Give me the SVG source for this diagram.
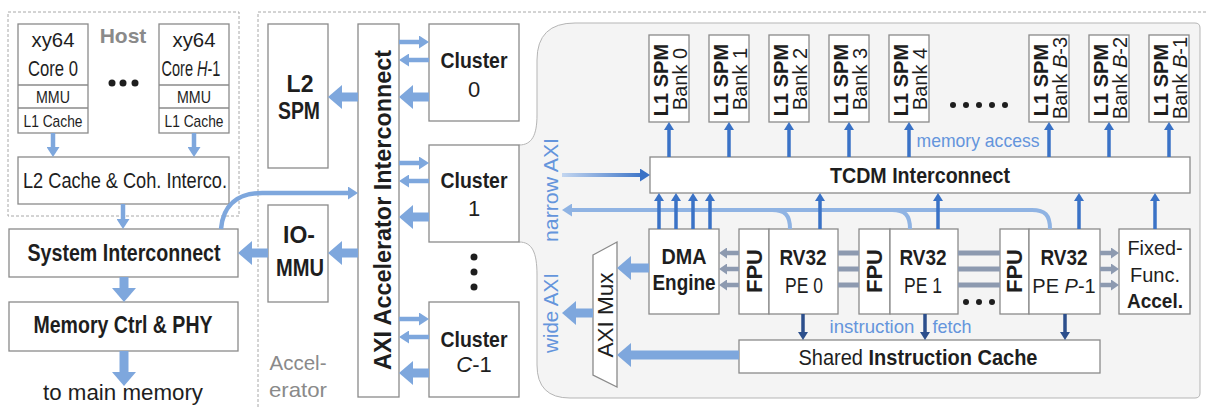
<svg xmlns="http://www.w3.org/2000/svg" width="1208" height="408" viewBox="0 0 1208 408">
<style>
.box{fill:#fff;stroke:#8a8a8a;stroke-width:1.3}
.frame{fill:none;stroke:#a8a8a8;stroke-width:1;stroke-dasharray:3 2}
.t{font-family:"Liberation Sans",Arial,sans-serif;fill:#1e1e1e;text-anchor:middle}
.b{font-weight:bold}
.gray{fill:#8a8a8a}
.blue{fill:#6495dc}
.s22{font-size:22px}
.s20{font-size:20px}
.thick{stroke:#7ea7dd;stroke-width:9;fill:none;marker-end:url(#mThick)}
.thin{stroke:#7ea7dd;stroke-width:4.5;fill:none;marker-end:url(#mThin)}
.dark{stroke:#3a72c6;stroke-width:3.5;fill:none;marker-end:url(#mDark)}
.fetch{stroke:#2c4f8c;stroke-width:3.5;fill:none;marker-end:url(#mFetch)}
.garr{stroke:#8d9ab0;stroke-width:4.5;fill:none;marker-end:url(#mGray)}
.gbar{stroke:#8d9ab0;stroke-width:5;fill:none}
.ret{stroke:#8fb3e3;stroke-width:4;fill:none}
</style>
<defs>
<marker id="mThick" markerUnits="userSpaceOnUse" markerWidth="14" markerHeight="24" refX="1" refY="12" orient="auto"><path d="M0,0 L14,12 L0,24 z" fill="#7ea7dd"/></marker>
<marker id="mThin" markerUnits="userSpaceOnUse" markerWidth="10" markerHeight="13" refX="1" refY="6.5" orient="auto"><path d="M0,0 L10,6.5 L0,13 z" fill="#7ea7dd"/></marker>
<marker id="mRet" markerUnits="userSpaceOnUse" markerWidth="10" markerHeight="13" refX="1" refY="6.5" orient="auto"><path d="M0,0 L10,6.5 L0,13 z" fill="#8fb3e3"/></marker>
<marker id="mNar" markerUnits="userSpaceOnUse" markerWidth="10" markerHeight="13" refX="1" refY="6.5" orient="auto"><path d="M0,0 L10,6.5 L0,13 z" fill="#3a72c6"/></marker>
<marker id="mDark" markerUnits="userSpaceOnUse" markerWidth="8" markerHeight="10" refX="1" refY="5" orient="auto"><path d="M0,0 L8,5 L0,10 z" fill="#3a72c6"/></marker>
<marker id="mFetch" markerUnits="userSpaceOnUse" markerWidth="8" markerHeight="10" refX="1" refY="5" orient="auto"><path d="M0,0 L8,5 L0,10 z" fill="#2c4f8c"/></marker>
<marker id="mGray" markerUnits="userSpaceOnUse" markerWidth="8" markerHeight="11" refX="1" refY="5.5" orient="auto"><path d="M0,0 L8,5.5 L0,11 z" fill="#8d9ab0"/></marker>
<linearGradient id="gNar" gradientUnits="userSpaceOnUse" x1="562" y1="0" x2="645" y2="0"><stop offset="0" stop-color="#c3d6f0"/><stop offset="1" stop-color="#3a72c6"/></linearGradient>
</defs>

<!-- frames -->
<g id="host">
<rect class="frame" x="8" y="12" width="231" height="204"/>
<text class="t b gray" x="123" y="43" font-size="21">Host</text>
<circle cx="112" cy="83" r="3.5" fill="#1e1e1e"/><circle cx="123" cy="83" r="3.5" fill="#1e1e1e"/><circle cx="135" cy="83" r="3.5" fill="#1e1e1e"/>
</g>
<g id="accelerator">
<rect class="frame" x="258" y="12" width="980" height="420"/>
<text class="t gray" x="298" y="370" font-size="21" textLength="57" lengthAdjust="spacingAndGlyphs">Accel-</text>
<text class="t gray" x="298" y="397" font-size="21" textLength="58" lengthAdjust="spacingAndGlyphs">erator</text>
</g>
<g id="cluster-detail">
<path d="M519,145 C532,145 537,135 537,115 L537,60 Q537,23 575,23 L1195,23 Q1200,23 1200,28 L1200,393 Q1200,398 1195,398 L570,398 Q537,398 537,365 L537,275 C537,252 532,242 519,242" fill="#f4f4f4" stroke="#b5b5b5" stroke-width="1"/>
<text class="t blue" transform="translate(558,190) rotate(-90)" font-size="20" textLength="104" lengthAdjust="spacingAndGlyphs">narrow AXI</text>
<text class="t blue" transform="translate(558,313) rotate(-90)" font-size="20" textLength="80" lengthAdjust="spacingAndGlyphs">wide AXI</text>
<text class="t blue" x="978" y="147" font-size="19" textLength="123" lengthAdjust="spacingAndGlyphs">memory access</text>
<text class="t blue" x="872" y="333" font-size="19" textLength="85" lengthAdjust="spacingAndGlyphs">instruction</text>
<text class="t blue" x="952" y="333" font-size="19" textLength="39" lengthAdjust="spacingAndGlyphs">fetch</text>
<g fill="#1e1e1e"><circle cx="953" cy="105" r="3"/><circle cx="966" cy="105" r="3"/><circle cx="979" cy="105" r="3"/><circle cx="992" cy="105" r="3"/><circle cx="1005" cy="105" r="3"/>
<circle cx="966" cy="302" r="3"/><circle cx="979" cy="302" r="3"/><circle cx="992" cy="302" r="3"/></g>
</g>

<!-- host nodes -->
<g id="core0">
<rect class="box" x="18" y="24" width="70" height="109"/>
<line x1="18" y1="85" x2="88" y2="85" stroke="#8a8a8a" stroke-width="1.3"/><line x1="18" y1="108" x2="88" y2="108" stroke="#8a8a8a" stroke-width="1.3"/>
<text class="t" x="53" y="47" font-size="21" textLength="43" lengthAdjust="spacingAndGlyphs">xy64</text>
<text class="t" x="53" y="76" font-size="22" textLength="50" lengthAdjust="spacingAndGlyphs">Core 0</text>
<text class="t" x="53" y="103" font-size="17" textLength="34" lengthAdjust="spacingAndGlyphs">MMU</text>
<text class="t" x="53" y="127" font-size="17" textLength="59" lengthAdjust="spacingAndGlyphs">L1 Cache</text>
</g>
<g id="coreH">
<rect class="box" x="159" y="24" width="70" height="109"/>
<line x1="159" y1="85" x2="229" y2="85" stroke="#8a8a8a" stroke-width="1.3"/><line x1="159" y1="108" x2="229" y2="108" stroke="#8a8a8a" stroke-width="1.3"/>
<text class="t" x="194" y="47" font-size="21" textLength="43" lengthAdjust="spacingAndGlyphs">xy64</text>
<text class="t" transform="translate(191,76) scale(0.66,1)" font-size="22">Core <tspan font-style="italic">H</tspan>-1</text>
<text class="t" x="194" y="103" font-size="17" textLength="34" lengthAdjust="spacingAndGlyphs">MMU</text>
<text class="t" x="194" y="127" font-size="17" textLength="59" lengthAdjust="spacingAndGlyphs">L1 Cache</text>
</g>
<g id="l2cache">
<rect class="box" x="18" y="157" width="211" height="47"/>
<text class="t s22" x="125" y="188" textLength="204" lengthAdjust="spacingAndGlyphs">L2 Cache &amp; Coh. Interco.</text>
</g>
<g id="sysic">
<rect class="box" x="9" y="229" width="229" height="48"/>
<text class="t b" x="124" y="261" font-size="23" textLength="193" lengthAdjust="spacingAndGlyphs">System Interconnect</text>
</g>
<g id="memctrl">
<rect class="box" x="9" y="302" width="229" height="49"/>
<text class="t b" x="123" y="333" font-size="23" textLength="179" lengthAdjust="spacingAndGlyphs">Memory Ctrl &amp; PHY</text>
</g>
<g id="mainmem">
<text class="t s22" x="123" y="400" textLength="160" lengthAdjust="spacingAndGlyphs">to main memory</text>
</g>

<!-- accelerator nodes -->
<g id="l2spm">
<rect class="box" x="268" y="24" width="60" height="144"/>
<text class="t b" x="300" y="92" font-size="23">L2</text>
<text class="t b" x="299" y="119" font-size="23" textLength="42" lengthAdjust="spacingAndGlyphs">SPM</text>
</g>
<g id="iommu">
<rect class="box" x="268" y="205" width="60" height="97"/>
<text class="t b" x="299" y="243" font-size="23">IO-</text>
<text class="t b" x="300" y="276" font-size="23" textLength="48" lengthAdjust="spacingAndGlyphs">MMU</text>
</g>
<g id="axi-ic">
<rect class="box" x="358" y="24" width="41" height="373"/>
<text class="t b" transform="translate(391,210) rotate(-90)" font-size="23" textLength="320" lengthAdjust="spacingAndGlyphs">AXI Accelerator Interconnect</text>
</g>
<g id="cluster0">
<rect class="box" x="429" y="24" width="90" height="97"/>
<text class="t b s22" x="474" y="68" textLength="67" lengthAdjust="spacingAndGlyphs">Cluster</text>
<text class="t s22" x="474" y="97">0</text>
</g>
<g id="cluster1">
<rect class="box" x="429" y="145" width="90" height="97"/>
<text class="t b s22" x="474" y="188" textLength="67" lengthAdjust="spacingAndGlyphs">Cluster</text>
<text class="t s22" x="474" y="216">1</text>
</g>
<g id="clusterC">
<rect class="box" x="429" y="302" width="90" height="95"/>
<text class="t b s22" x="474" y="347" textLength="67" lengthAdjust="spacingAndGlyphs">Cluster</text>
<text class="t s22" x="474" y="372"><tspan font-style="italic">C</tspan>-1</text>
</g>
<g id="cluster-dots" fill="#1e1e1e"><circle cx="474" cy="257" r="3.5"/><circle cx="474" cy="272" r="3.5"/><circle cx="474" cy="287" r="3.5"/></g>

<!-- cluster internals -->
<g id="bank0"><rect class="box" x="649" y="35" width="40" height="87"/><text class="t b s20" transform="translate(668,80) rotate(-90)">L1 SPM</text><text class="t s20" transform="translate(686.5,79) rotate(-90)">Bank 0</text></g>
<g id="bank1"><rect class="box" x="709" y="35" width="40" height="87"/><text class="t b s20" transform="translate(728,80) rotate(-90)">L1 SPM</text><text class="t s20" transform="translate(746.5,79) rotate(-90)">Bank 1</text></g>
<g id="bank2"><rect class="box" x="769" y="35" width="40" height="87"/><text class="t b s20" transform="translate(788,80) rotate(-90)">L1 SPM</text><text class="t s20" transform="translate(806.5,79) rotate(-90)">Bank 2</text></g>
<g id="bank3"><rect class="box" x="829" y="35" width="40" height="87"/><text class="t b s20" transform="translate(848,80) rotate(-90)">L1 SPM</text><text class="t s20" transform="translate(866.5,79) rotate(-90)">Bank 3</text></g>
<g id="bank4"><rect class="box" x="889" y="35" width="40" height="87"/><text class="t b s20" transform="translate(908,80) rotate(-90)">L1 SPM</text><text class="t s20" transform="translate(926.5,79) rotate(-90)">Bank 4</text></g>
<g id="bankB3"><rect class="box" x="1029" y="35" width="40" height="87"/><text class="t b s20" transform="translate(1048,80) rotate(-90)">L1 SPM</text><text class="t s20" transform="translate(1066.5,78) rotate(-90)">Bank <tspan font-style="italic">B</tspan>-3</text></g>
<g id="bankB2"><rect class="box" x="1089" y="35" width="40" height="87"/><text class="t b s20" transform="translate(1108,80) rotate(-90)">L1 SPM</text><text class="t s20" transform="translate(1126.5,78) rotate(-90)">Bank <tspan font-style="italic">B</tspan>-2</text></g>
<g id="bankB1"><rect class="box" x="1149" y="35" width="40" height="87"/><text class="t b s20" transform="translate(1168,80) rotate(-90)">L1 SPM</text><text class="t s20" transform="translate(1186.5,78) rotate(-90)">Bank <tspan font-style="italic">B</tspan>-1</text></g>
<g id="tcdm"><rect class="box" x="650" y="157" width="540" height="36"/><text class="t b s22" x="920" y="183" textLength="180" lengthAdjust="spacingAndGlyphs">TCDM Interconnect</text></g>
<g id="dma"><rect class="box" x="649" y="229" width="70" height="85"/><text class="t b s22" x="684" y="264" textLength="45" lengthAdjust="spacingAndGlyphs">DMA</text><text class="t b s22" x="684" y="290" textLength="63" lengthAdjust="spacingAndGlyphs">Engine</text></g>
<g id="pe0"><rect class="box" x="739" y="229" width="30" height="85"/><rect class="box" x="769" y="229" width="69" height="85"/><text class="t b s22" transform="translate(762,271) rotate(-90)">FPU</text><text class="t b s22" x="803" y="265" textLength="47" lengthAdjust="spacingAndGlyphs">RV32</text><text class="t s22" x="804" y="293" textLength="38" lengthAdjust="spacingAndGlyphs">PE 0</text></g>
<g id="pe1"><rect class="box" x="859" y="229" width="31" height="85"/><rect class="box" x="890" y="229" width="68" height="85"/><text class="t b s22" transform="translate(882,271) rotate(-90)">FPU</text><text class="t b s22" x="923" y="265" textLength="47" lengthAdjust="spacingAndGlyphs">RV32</text><text class="t s22" x="923" y="293" textLength="38" lengthAdjust="spacingAndGlyphs">PE 1</text></g>
<g id="peP"><rect class="box" x="1000" y="229" width="29" height="85"/><rect class="box" x="1029" y="229" width="71" height="85"/><text class="t b s22" transform="translate(1022,271) rotate(-90)">FPU</text><text class="t b s22" x="1064" y="265" textLength="47" lengthAdjust="spacingAndGlyphs">RV32</text><text class="t s20" x="1064" y="293">PE <tspan font-style="italic">P</tspan>-1</text></g>
<g id="ffaccel"><rect class="box" x="1119" y="229" width="71" height="85"/><text class="t" x="1155" y="255" font-size="21" textLength="55" lengthAdjust="spacingAndGlyphs">Fixed-</text><text class="t" x="1155" y="282" font-size="21" textLength="50" lengthAdjust="spacingAndGlyphs">Func.</text><text class="t b" x="1155" y="308" font-size="21" textLength="56" lengthAdjust="spacingAndGlyphs">Accel.</text></g>
<g id="icache"><rect class="box" x="739" y="340" width="361" height="33"/><text class="t s22" x="918" y="365" textLength="239" lengthAdjust="spacingAndGlyphs">Shared <tspan font-weight="bold">Instruction Cache</tspan></text></g>
<g id="axmux"><path class="box" d="M593,255 L617,242 L617,387 L593,375 z"/><text class="t s22" transform="translate(613,315) rotate(-90)" textLength="85" lengthAdjust="spacingAndGlyphs">AXI Mux</text></g>

<!-- connectors -->
<g id="connectors">
<path class="thin" d="M53,133 V148"/>
<path class="thin" d="M194,133 V148"/>
<path class="thin" d="M123,204 V220"/>
<path class="thick" d="M124,277 V289"/>
<path class="thick" d="M124,351 V373"/>
<path class="thick" d="M268,253 H251"/>
<path class="thick" d="M358,253 H341"/>
<path class="thick" d="M358,97 H341"/>
<path class="thin" stroke-width="5" d="M221,229 C223,205 238,193 262,193 H349"/>
<path class="thin" d="M399,42 H420"/><path class="thin" d="M429,60 H408"/><path class="thick" d="M429,97 H412"/>
<path class="thin" d="M399,163 H420"/><path class="thin" d="M429,181 H408"/><path class="thick" d="M429,217 H412"/>
<path class="thin" d="M399,319 H420"/><path class="thin" d="M429,337 H408"/><path class="thick" d="M429,373 H412"/>
<path d="M562,175 H641" stroke="url(#gNar)" stroke-width="4" fill="none" marker-end="url(#mNar)"/>
<path class="ret" d="M1050,229 C1050,215 1045,210 1032,210 H571" marker-end="url(#mRet)"/>
<path class="ret" d="M790,229 C790,215 785,210 772,210"/>
<path class="ret" d="M910,229 C910,215 905,210 892,210"/>
<path class="dark" d="M659,229 V200"/><path class="dark" d="M676,229 V200"/><path class="dark" d="M693,229 V200"/><path class="dark" d="M710,229 V200"/>
<path class="dark" d="M820,229 V200"/><path class="dark" d="M938,229 V200"/><path class="dark" d="M1079,229 V200"/><path class="dark" d="M1155,229 V200"/>
<path class="dark" d="M669,157 V129"/><path class="dark" d="M729,157 V129"/><path class="dark" d="M789,157 V129"/><path class="dark" d="M849,157 V129"/>
<path class="dark" d="M909,157 V129"/><path class="dark" d="M1049,157 V129"/><path class="dark" d="M1109,157 V129"/><path class="dark" d="M1169,157 V129"/>
<path class="garr" d="M739,253 H726"/><path class="garr" d="M739,269 H726"/><path class="garr" d="M739,285 H726"/>
<path class="gbar" d="M838,253 H859 M838,269 H859 M838,285 H859"/>
<path class="gbar" d="M958,253 H1000 M958,269 H1000 M958,285 H1000"/>
<path class="garr" d="M1100,253 H1112"/><path class="garr" d="M1100,269 H1112"/><path class="garr" d="M1100,285 H1112"/>
<path class="fetch" d="M803,314 V333"/><path class="fetch" d="M925,314 V333"/><path class="fetch" d="M1065,314 V333"/>
<path class="thick" d="M649,268 H630"/>
<path class="thick" d="M739,355 H630"/>
<path class="thick" d="M593,313 H575"/>
</g>
</svg>
